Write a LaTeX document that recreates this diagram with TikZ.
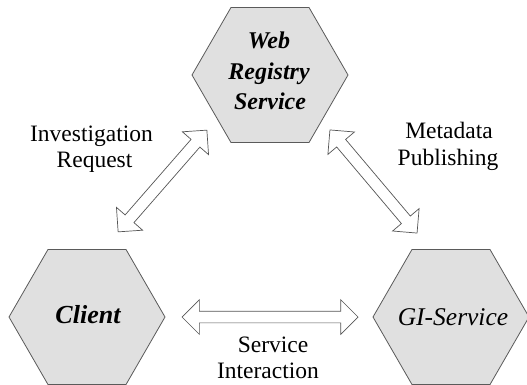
\documentclass[tikz,border=0pt]{standalone}
\usepackage{fontspec}
\setmainfont{Liberation Serif}[Ligatures=TeX]
\newfontfamily\tms{Liberation Serif}
\usetikzlibrary{shapes.geometric,shapes.arrows}
\definecolor{hexfill}{RGB}{224,224,224}
\definecolor{hexline}{RGB}{90,90,90}
\definecolor{arrline}{RGB}{85,85,85}
\tikzset{
  hex/.style={regular polygon, regular polygon sides=6, minimum size=156pt,
    inner sep=0pt, draw=hexline, fill=hexfill, line width=0.8pt},
  hextext/.style={font=\tms\fontsize{24pt}{30.5pt}\selectfont\bfseries\itshape, anchor=base, inner sep=0pt},
  dblarrow/.style={double arrow, draw=arrline, fill=white, line width=0.7pt,
    minimum width=34pt, double arrow head extend=11.5pt, inner xsep=0pt, inner ysep=5.5pt,
    sloped, anchor=center},
  lab/.style={font=\tms\fontsize{23.5pt}{26pt}\selectfont, anchor=base, inner sep=0pt}
}
\begin{document}
\begin{tikzpicture}[x=1pt,y=-1pt]
\useasboundingbox (0,0) rectangle (527,385);
% hexagons
\node[hex] (wrs) at (270,75) {};
\node[hex] (cli) at (87,317) {};
\node[hex] (gis) at (451,317) {};
\node[hextext] (wrs1) at (269,49) {Web};
\node[hextext] (wrs2) at (269,80) {Registry};
\node[hextext] (wrs3) at (270,110) {Service};
\node[hextext, font=\tms\fontsize{26pt}{30pt}\selectfont\bfseries\itshape] (clit) at (88,323) {Client};
\node[hextext, font=\tms\fontsize{25.5pt}{30pt}\selectfont\itshape] (gist) at (453,325) {GI-Service};
% arrow end points
\coordinate (a1) at (207,130);
\coordinate (a2) at (118,232);
\coordinate (b1) at (330,130);
\coordinate (b2) at (417,233);
\coordinate (c1) at (182,317);
\coordinate (c2) at (358,317);
\path (a1) -- node[dblarrow, minimum height=135pt] (arrA) {} (a2);
\path (b1) -- node[dblarrow, minimum height=135pt] (arrB) {} (b2);
\path (c1) -- node[dblarrow, minimum height=176pt] (arrC) {} (c2);
% labels
\node[lab] (inv) at (91.5,141) {Investigation};
\node[lab] (req) at (94.5,167) {Request};
\node[lab] (met) at (449,139) {Metadata};
\node[lab] (pub) at (448,165) {Publishing};
\node[lab] (ser) at (273,352) {Service};
\node[lab] (int) at (268,378) {Interaction};
\end{tikzpicture}
\end{document}
